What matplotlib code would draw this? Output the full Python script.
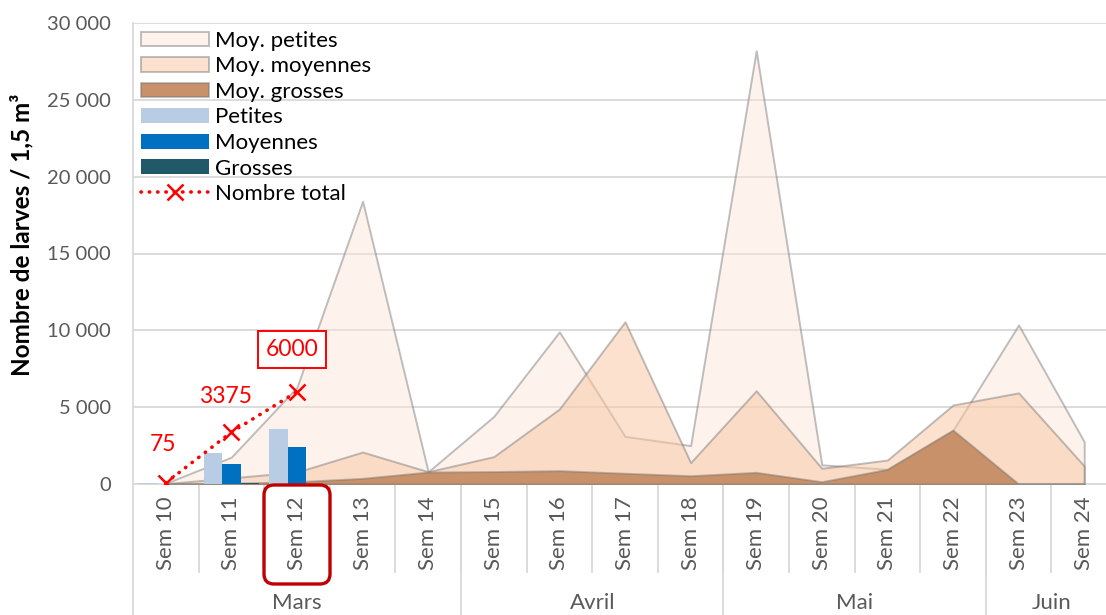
import numpy as np
import matplotlib
matplotlib.use("Agg")
import matplotlib.pyplot as plt
import matplotlib.colors as mcolors
import matplotlib.transforms as mtransforms
from matplotlib.patches import FancyBboxPatch
from matplotlib.ticker import FuncFormatter

plt.rcParams["font.family"] = ["Lato", "DejaVu Sans"]

# --- data -------------------------------------------------------------
semaines = ["Sem 10", "Sem 11", "Sem 12", "Sem 13", "Sem 14", "Sem 15", "Sem 16",
            "Sem 17", "Sem 18", "Sem 19", "Sem 20", "Sem 21", "Sem 22", "Sem 23", "Sem 24"]
mois = ["Mars", "Avril", "Mai", "Juin"]
mois_nb_sem = [5, 4, 4, 2]

moy_petites = [50, 1750, 6300, 18400, 800, 4400, 9900, 3100, 2500, 28200,
               1250, 960, 3500, 10350, 2750]
moy_moyennes = [25, 400, 780, 2080, 800, 1780, 4880, 10560, 1390, 6070,
                1020, 1560, 5140, 5930, 1170]
moy_grosses = [0, 50, 150, 370, 780, 810, 870, 700, 540, 760,
               150, 960, 3510, 0, 0]

# weekly counts (only first three weeks)
petites = [50, 2000, 3600]
moyennes = [25, 1300, 2400]
grosses = [0, 75, 0]
nombre_total = [75, 3375, 6000]

# --- figure -----------------------------------------------------------
W, H = 1106, 615
fig = plt.figure(figsize=(W / 100, H / 100), dpi=100)
ax = fig.add_axes([133 / W, 131 / H, 984 / W, 461 / H])

x = np.arange(len(semaines))
edge = (0.45, 0.45, 0.45, 0.45)
a1 = ax.fill_between(x, moy_petites, 0, facecolor=mcolors.to_rgba("#FCE4D6", 0.45),
                     edgecolor=edge, lw=1.4, zorder=2, label="Moy. petites")
a2 = ax.fill_between(x, moy_moyennes, 0, facecolor=mcolors.to_rgba("#F8C9A6", 0.55),
                     edgecolor=edge, lw=1.4, zorder=3, label="Moy. moyennes")
a3 = ax.fill_between(x, moy_grosses, 0, facecolor="#C8916A",
                     edgecolor=edge, lw=1.4, zorder=4, label="Moy. grosses")

bw = 0.28
xb = x[:len(petites)]
b1 = ax.bar(xb - bw, petites, bw, color="#B8CCE4", zorder=5, label="Petites")
b2 = ax.bar(xb, moyennes, bw, color="#0070C0", zorder=5, label="Moyennes")
b3 = ax.bar(xb + bw, grosses, bw, color="#215968", zorder=5, label="Grosses")

l1, = ax.plot(xb, nombre_total, color="#FF0000", lw=2.6, linestyle=(0, (0.1, 2.2)),
              dash_capstyle="round", marker="x", markersize=11, mew=1.8, zorder=6,
              label="Nombre total")

# value labels
offsets = [(-3, 38), (-6, 36), (-5, 42)]
for xi, v, off in zip(xb, nombre_total, offsets):
    kw = {}
    if v == nombre_total[-1]:
        kw["bbox"] = dict(boxstyle="square,pad=0.35", fc="white", ec="#FF0000", lw=1.4)
    ax.annotate(f"{v}", (xi, v), xytext=off, textcoords="offset pixels",
                ha="center", va="center", color="#FF0000", fontsize=16.5, zorder=7, **kw)

# axes styling
ax.set_xlim(-0.5, 14.5)
ax.set_ylim(0, 30000)
ax.set_yticks(np.arange(0, 30001, 5000))
ax.yaxis.set_major_formatter(FuncFormatter(lambda v, p: f"{v:,.0f}".replace(",", " ")))
ax.tick_params(axis="y", length=0, pad=16, labelsize=14.5, labelcolor="#595959")
ax.yaxis.grid(True, color="#D9D9D9", lw=1.3)
ax.set_axisbelow(True)
for s in ["top", "right"]:
    ax.spines[s].set_visible(False)
for s in ["left", "bottom"]:
    ax.spines[s].set_color("#D9D9D9")
    ax.spines[s].set_linewidth(1.3)

ax.set_xticks(x)
ax.set_xticklabels(semaines, rotation=90, fontsize=16, color="#595959")
ax.tick_params(axis="x", length=0, pad=9)

# category boundary ticks and month separators
trans = mtransforms.blended_transform_factory(ax.transData, ax.transAxes)
for b in np.arange(0.5, len(semaines) - 0.5, 1.0):
    ax.plot([b, b], [0, -88 / 461], transform=trans, color="#D9D9D9", lw=1.3, clip_on=False)
bounds = np.concatenate([[0], np.cumsum(mois_nb_sem)]) - 0.5
for b in bounds[:-1]:
    ax.plot([b, b], [0, -131 / 461], transform=trans, color="#D9D9D9", lw=1.3, clip_on=False)
for m, lo, hi in zip(mois, bounds[:-1], bounds[1:]):
    ax.text((lo + hi) / 2, -119 / 461, m, transform=trans, ha="center", va="center",
            fontsize=16, color="#595959")

fig.text(22 / W, 1 - 235 / H, "Nombre de larves / 1,5 m³", rotation=90,
         ha="center", va="center", fontsize=17.5, fontweight="bold")

# highlight box around Sem 12
hl = FancyBboxPatch((264, 31), 66, 99, boxstyle="round,pad=0,rounding_size=10",
                    transform=mtransforms.IdentityTransform(), fill=False,
                    ec="#C00000", lw=2.4, zorder=10)
fig.add_artist(hl)

ax.legend([a1, a2, a3, b1, b2, b3, l1],
          ["Moy. petites", "Moy. moyennes", "Moy. grosses", "Petites", "Moyennes",
           "Grosses", "Nombre total"],
          loc="upper left", bbox_to_anchor=(0.0, 1.0), frameon=False,
          fontsize=16, handlelength=3.06, handleheight=0.65, labelspacing=0.25,
          handletextpad=0.3, borderaxespad=0.1, borderpad=0.25)

fig.savefig("out.png", dpi=100)
